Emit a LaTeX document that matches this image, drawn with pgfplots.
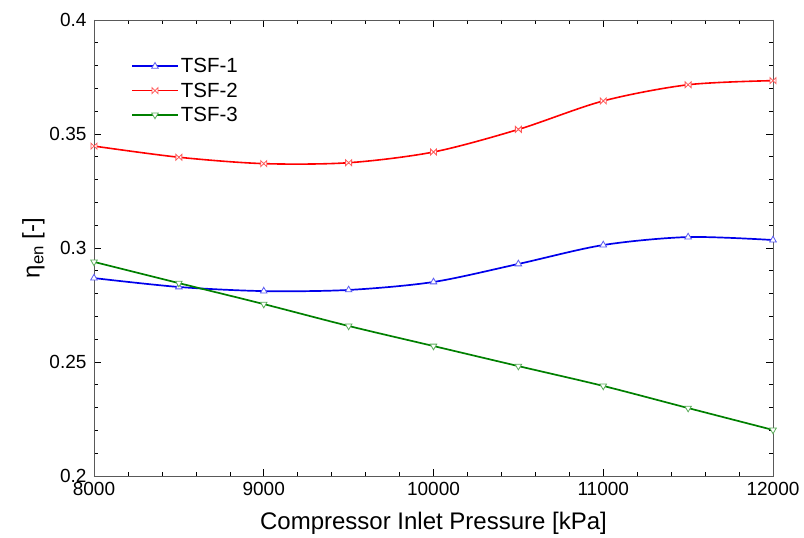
\documentclass[border=0pt]{standalone}
\usepackage{pgfplots}
\pgfplotsset{compat=1.18}
\usepackage{fontspec}
\setmainfont{Liberation Sans}
\pgfdeclareplotmark{bowtie}{%
  \pgfpathmoveto{\pgfqpoint{-\pgfplotmarksize}{\pgfplotmarksize}}%
  \pgfpathlineto{\pgfqpoint{\pgfplotmarksize}{-\pgfplotmarksize}}%
  \pgfpathlineto{\pgfqpoint{\pgfplotmarksize}{\pgfplotmarksize}}%
  \pgfpathlineto{\pgfqpoint{-\pgfplotmarksize}{-\pgfplotmarksize}}%
  \pgfpathclose
  \pgfusepathqfillstroke}
\definecolor{tblue}{RGB}{0,0,235}
\definecolor{tred}{RGB}{255,0,0}
\definecolor{tgreen}{RGB}{0,128,0}
\begin{document}
\begin{tikzpicture}
\begin{axis}[
  scale only axis, width=679pt, height=456pt,
  xmin=8000, xmax=12000, ymin=0.2, ymax=0.4,
  xtick={8000,9000,10000,11000,12000},
  ytick={0.2,0.25,0.3,0.35,0.4},
  minor x tick num=4, minor y tick num=4,
  tick align=inside,
  major tick length=7pt, minor tick length=4pt,
  axis line style={draw=black!65, line width=0.9pt},
  every tick/.style={black, line width=0.6pt},
  xticklabel style={font=\fontsize{19}{19}\selectfont, /pgf/number format/1000 sep={}, yshift=-3pt},
  yticklabel style={font=\fontsize{19}{19}\selectfont, xshift=-4pt},
  scaled x ticks=false,
  /pgf/number format/assume math mode=true,
  /pgf/number format/fixed,
  xlabel={Compressor Inlet Pressure [kPa]},
  xlabel style={font=\fontsize{24}{24}\selectfont, yshift=-9pt},
  ylabel={η\textsubscript{en} [-]},
  ylabel style={font=\fontsize{24}{24}\selectfont, yshift=-2pt},
  legend style={draw=none, fill=none, at={(0.05,0.925)}, anchor=north west,
    font=\fontsize{20.5}{20.5}\selectfont, row sep=4.5pt},
  legend cell align=left,
  legend image code/.code={\draw[mark repeat=2, mark phase=2, #1] plot coordinates {(0pt,0pt) (23pt,0pt) (46pt,0pt)};},
]
\addplot[draw=tblue, line width=1.7pt, smooth, mark=triangle*, mark size=3.8pt,
    mark options={line width=0.8pt, draw=tblue!65, fill=white, solid}] coordinates {
(8000,0.2868) (8500,0.2829) (9000,0.2811) (9500,0.2816) (10000,0.2851)
(10500,0.2930) (11000,0.3013) (11500,0.3048) (12000,0.3035)};
\addlegendentry{TSF-1}
\addplot[draw=tred, line width=1.6pt, smooth, mark=bowtie, mark size=3pt,
    mark options={line width=0.8pt, draw=tred!65, fill=white, solid}] coordinates {
(8000,0.3447) (8500,0.3398) (9000,0.3370) (9500,0.3374) (10000,0.3421)
(10500,0.3520) (11000,0.3645) (11500,0.3716) (12000,0.3734)};
\addlegendentry{TSF-2}
\addplot[draw=tgreen, line width=1.7pt, smooth, mark=triangle*, mark size=3.8pt,
    mark options={line width=0.8pt, draw=tgreen!65, fill=white, solid, rotate=180}] coordinates {
(8000,0.2939) (8500,0.2846) (9000,0.2754) (9500,0.2658) (10000,0.2570)
(10500,0.2482) (11000,0.2395) (11500,0.2298) (12000,0.2202)};
\addlegendentry{TSF-3}
\end{axis}
\pgfresetboundingbox
\path (current axis.south west) ++(-94pt,-61pt) coordinate (bl);
\path (current axis.north east) ++(31pt,20pt) coordinate (tr);
\path (bl) rectangle (tr);
\end{tikzpicture}
\end{document}
